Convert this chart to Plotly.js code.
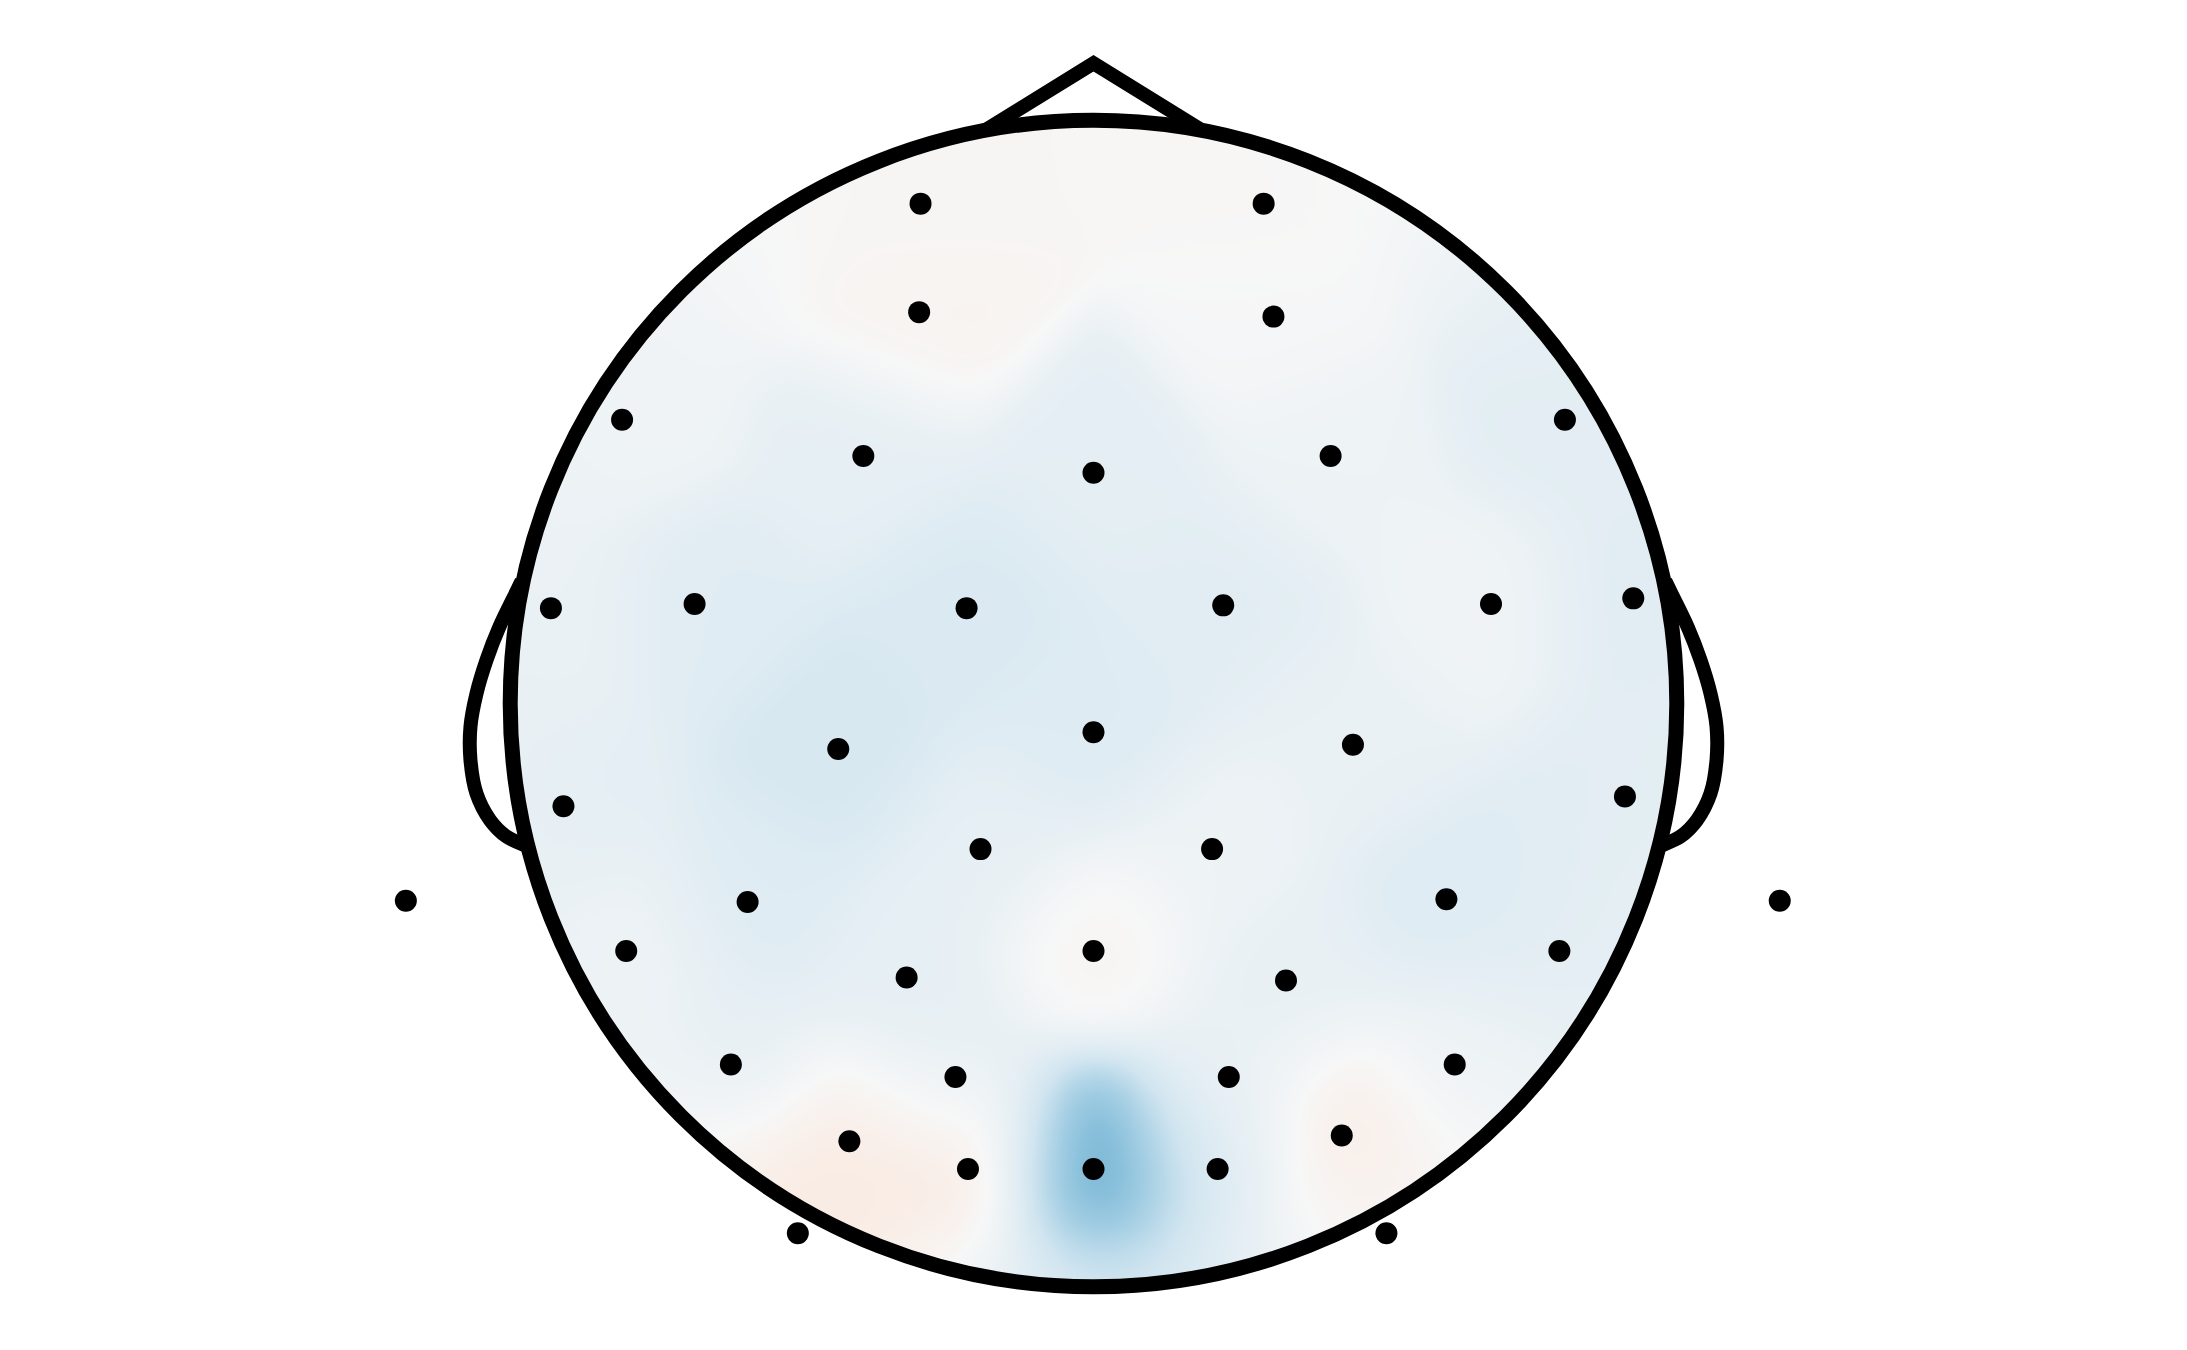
<!DOCTYPE html>
<html><head><meta charset="utf-8">
<script src="https://cdn.plot.ly/plotly-3.0.1.min.js"></script>
<style>html,body{margin:0;padding:0;background:#fff;}#chart{width:2187px;height:1350px;}</style>
</head><body><div id="chart"></div>
<script>
// Electrode positions in head-radius units (x to the right, y up; head circle radius = 1)
const chX = [-0.2965, 0.2917, -0.2989, 0.3085, -0.8082, -0.3946, 0.0000, 0.4065, 0.8082, -0.9302,
             -0.6839, -0.2176, 0.2224, 0.6815, 0.9254, -0.4376, 0.0000, 0.4448, -0.9087, 0.9111,
             -1.1789, 1.1765, -0.1937, 0.2033, -0.5930, 0.6050, -0.8011, 0.0000, 0.7987, -0.3204,
              0.3300, -0.6217, -0.2367, 0.2319, 0.6193, -0.4185, 0.4256, -0.2152, 0.0000, 0.2128,
             -0.5069, 0.5022];
const chY = [ 0.8570, 0.8570, 0.6710, 0.6633, 0.4864, 0.4243, 0.3956, 0.4243, 0.4864, 0.1635,
              0.1707, 0.1635, 0.1683, 0.1707, 0.1803, -0.0780, -0.0493, -0.0708, -0.1760, -0.1593,
             -0.3380, -0.3380, -0.2496, -0.2496, -0.3404, -0.3357, -0.4242, -0.4242, -0.4242, -0.4696,
             -0.4749, -0.6188, -0.6403, -0.6403, -0.6188, -0.7503, -0.7407, -0.7981, -0.7981, -0.7981,
             -0.9081, -0.9081];
// Values at each electrode (relative to the colour limit vmax)
const chVal = [ 0.01, 0.01, 0.03, -0.01, -0.04, -0.09, -0.10, -0.05, -0.11, -0.06,
               -0.12, -0.15, -0.11, -0.04, -0.12, -0.17, -0.13, -0.07, -0.10, -0.11,
               -0.06, -0.08, -0.09, -0.05, -0.13, -0.13, -0.04, 0.02, -0.11, -0.09,
               -0.08, -0.09, -0.09, -0.07, -0.05, 0.07, 0.09, 0.12, -0.55, -0.14,
                0.13, 0.05];
const vmax = 1;

// Head outline geometry (head radius units)
const noseX = [-0.1856, 0, 0.1856];
const noseY = [0.983, 1.0977, 0.983];
const earX = [0.9805, 0.9892, 1.0183, 1.0406, 1.0578, 1.0681, 1.0681, 1.0578, 1.0346, 1.0063, 0.9738, 0.9648];
const earY = [0.2100, 0.1920, 0.1320, 0.0746, 0.0171, -0.0394, -0.0969, -0.1543, -0.1997, -0.2280, -0.2434, -0.2477];

const rdbu_r = [[0,'#053061'],[0.1,'#2166ac'],[0.2,'#4393c3'],[0.3,'#92c5de'],[0.4,'#d1e5f0'],
  [0.5,'#f7f7f7'],[0.6,'#fddbc7'],[0.7,'#f4a582'],[0.8,'#d6604d'],[0.9,'#b2182b'],[1,'#67001f']];

// ---- field over the head, built from the electrode values ----
function gaussAvg(x, y, px, py, pv, s) {
  let sw = 0, acc = 0;
  for (let k = 0; k < px.length; k++) {
    const w = Math.exp(-((x - px[k]) ** 2 + (y - py[k]) ** 2) / (2 * s * s));
    sw += w; acc += w * pv[k];
  }
  return acc / sw;
}
// boundary support points just outside the head, valued by the local mean of nearby electrodes
const ptX = chX.slice(), ptY = chY.slice(), ptV = chVal.slice();
for (let i = 0; i < 60; i++) {
  const a = 2 * Math.PI * i / 60, ex = 1.08 * Math.cos(a), ey = 1.08 * Math.sin(a);
  ptX.push(ex); ptY.push(ey); ptV.push(gaussAvg(ex, ey, chX, chY, chVal, 0.2));
}
const gx = [], gy = [];
for (let i = 0; i <= 208; i++) { gx.push(-1.04 + i * 0.01); gy.push(-1.04 + i * 0.01); }
const gz = gy.map(y => gx.map(x => gaussAvg(x, y, ptX, ptY, ptV, 0.1)));

// white mask outside head circle (rectangle with circular hole)
const mx = [2.5, 2.5, -2.5, -2.5, 2.5, 2.5, 1.0];
const my = [0, 1.6, 1.6, -1.6, -1.6, 0, 0];
for (let i = 1; i <= 360; i++) {
  const a = -i * Math.PI / 180;
  mx.push(Math.cos(a)); my.push(Math.sin(a));
}
mx.push(2.5); my.push(0);

const traces = [
  {type:'heatmap', x: gx, y: gy, z: gz, zsmooth:'best',
   colorscale: rdbu_r, zmin: -vmax, zmax: vmax, showscale:false, hoverinfo:'skip'},
  {type:'scatter', x: mx, y: my, mode:'lines', fill:'toself', fillcolor:'#ffffff',
   line:{width:0, color:'#ffffff'}, hoverinfo:'skip'},
  {type:'scatter', x: earX.map(v => -v), y: earY, mode:'lines',
   line:{color:'#000', width:14, shape:'spline'}, hoverinfo:'skip'},
  {type:'scatter', x: earX, y: earY, mode:'lines',
   line:{color:'#000', width:14, shape:'spline'}, hoverinfo:'skip'},
  {type:'scatter', x: chX, y: chY, mode:'markers',
   marker:{color:'#000', size:22}, hoverinfo:'skip'}
];

const layout = {
  width: 2187, height: 1350,
  margin: {l:0, r:0, t:0, b:0, pad:0},
  paper_bgcolor: '#ffffff', plot_bgcolor: '#ffffff',
  showlegend: false,
  xaxis: {range: [-1.8747, 1.8747], visible: false, fixedrange: true},
  yaxis: {range: [-1.1083, 1.2061], visible: false, fixedrange: true},
  shapes: [
    {type:'circle', xref:'x', yref:'y', x0:-1, x1:1, y0:-1, y1:1,
     line:{color:'#000', width:15}, layer:'above'},
    {type:'path', xref:'x', yref:'y',
     path: 'M ' + noseX[0] + ' ' + noseY[0] + ' L ' + noseX[1] + ' ' + noseY[1] + ' L ' + noseX[2] + ' ' + noseY[2],
     line:{color:'#000', width:14}, layer:'above'}
  ]
};

Plotly.newPlot('chart', traces, layout, {staticPlot: true});
</script>
</body></html>
